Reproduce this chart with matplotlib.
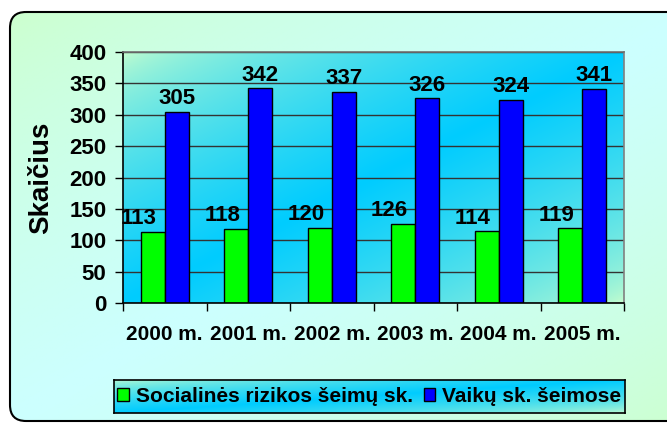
import numpy as np
import matplotlib
matplotlib.use("Agg")
import matplotlib.pyplot as plt
from matplotlib.colors import to_rgb
from matplotlib.patches import FancyBboxPatch, Patch

plt.rcParams["font.family"] = ["Liberation Sans", "DejaVu Sans"]
plt.rcParams["font.weight"] = "bold"

years = ["2000 m.", "2001 m.", "2002 m.", "2003 m.", "2004 m.", "2005 m."]
risk_families = [113, 118, 120, 126, 114, 119]
children = [305, 342, 337, 326, 324, 341]
series_names = ["Socialinės rizikos šeimų sk.", "Vaikų sk. šeimose"]
y_ticks = [0, 50, 100, 150, 200, 250, 300, 350, 400]

GREEN = "#00ff00"
BLUE = "#0000ff"


def diag_gradient(edge, mid, n=256, gamma=0.7):
    # two-colour "diagonal down" fill: edge colour in the corners, mid colour along the anti-diagonal
    xs = np.linspace(0, 1, n)
    X, Y = np.meshgrid(xs, xs)
    w = (1 - np.abs((X + Y) - 1)) ** gamma
    e, m = np.array(to_rgb(edge)), np.array(to_rgb(mid))
    return e + (m - e) * w[..., None]


W, H = 667, 423
fig = plt.figure(figsize=(W / 100, H / 100), dpi=100)

# outer rounded panel
bg = fig.add_axes([0, 0, 1, 1], zorder=-1)
box = FancyBboxPatch((10, 12), 690, 409, boxstyle="round,pad=0,rounding_size=16",
                     fc="none", ec="black", lw=1.5, zorder=3)
bg.add_patch(box)
im = bg.imshow(diag_gradient("#ccffcc", "#ccffff"), extent=[10, 700, 421, 12], aspect="auto", zorder=1)
im.set_clip_path(box)
bg.set_xlim(0, W)
bg.set_ylim(H, 0)
bg.axis("off")

# plot area
ax = fig.add_axes([123 / W, 1 - 303 / H, 501 / W, 251 / H])
ax.imshow(diag_gradient("#ccffcc", "#00ccff", gamma=0.6), extent=[0, 1, 0, 1], transform=ax.transAxes,
          aspect="auto", zorder=0)

x = np.arange(len(years))
bw = 0.29
ax.bar(x - bw / 2, risk_families, bw, color=GREEN, edgecolor="black", linewidth=1, zorder=2)
ax.bar(x + bw / 2, children, bw, color=BLUE, edgecolor="black", linewidth=1, zorder=2)

for xi, v in zip(x, risk_families):
    ax.annotate(str(v), (xi - bw / 2, v), xytext=(-10, 2), textcoords="offset points",
                ha="center", va="bottom", fontsize=16, fontweight="bold")
for xi, v in zip(x, children):
    ax.annotate(str(v), (xi + bw / 2, v), xytext=(0, 2), textcoords="offset points",
                ha="center", va="bottom", fontsize=16, fontweight="bold")

ax.set_xlim(-0.5, len(years) - 0.5)
ax.set_ylim(0, 400)
ax.set_yticks(y_ticks)
ax.tick_params(axis="y", direction="out", length=6, width=1, pad=6, labelsize=16)
ax.set_xticks(np.arange(len(years) + 1) - 0.5)
ax.set_xticklabels([])
ax.set_xticks(x, minor=True)
ax.set_xticklabels(years, minor=True)
ax.tick_params(axis="x", which="major", direction="out", length=6, width=1)
ax.tick_params(axis="x", which="minor", length=0, pad=16, labelsize=15)
for lbl in ax.get_yticklabels() + ax.get_xticklabels(minor=True):
    lbl.set_fontweight("bold")

ax.set_axisbelow(True)
ax.yaxis.grid(True, color="#333333", linewidth=1)
ax.spines["left"].set_color("black")
ax.spines["bottom"].set_color("black")
ax.spines["top"].set_color("#707070")
ax.spines["right"].set_color("#808080")
for s in ax.spines.values():
    s.set_linewidth(1.2)

ax.set_ylabel("Skaičius", fontsize=20, fontweight="bold")
ax.yaxis.set_label_coords(-0.138, 0.5)

# legend box
lax = fig.add_axes([114 / W, 1 - 413 / H, 511 / W, 33 / H])
lax.imshow(diag_gradient("#ccffcc", "#00ccff", gamma=0.6), extent=[0, 1, 0, 1], aspect="auto")
lax.set_xlim(0, 1)
lax.set_ylim(0, 1)
lax.set_xticks([])
lax.set_yticks([])
for s in lax.spines.values():
    s.set_linewidth(1.2)
    s.set_color("black")
handles = [Patch(fc=GREEN, ec="black", lw=1), Patch(fc=BLUE, ec="black", lw=1)]
lax.legend(handles, series_names, loc="center", ncol=2, frameon=False,
           prop={"size": 15, "weight": "bold"}, handlelength=0.55, handleheight=0.55,
           handletextpad=0.35, columnspacing=0.5, borderaxespad=0, borderpad=0)

fig.savefig("out.png", dpi=100)
